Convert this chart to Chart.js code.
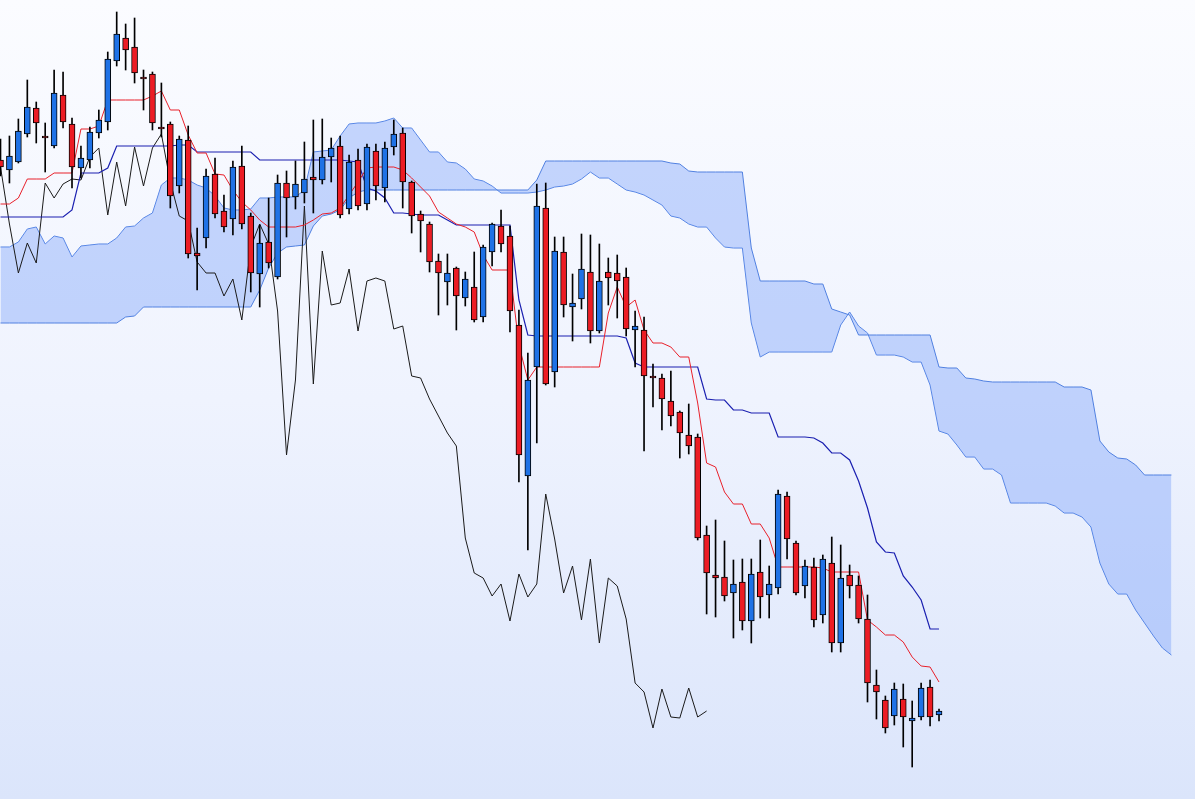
<!DOCTYPE html>
<html>
<head>
<meta charset="utf-8">
<script src="https://cdn.jsdelivr.net/npm/chart.js@4.4.0/dist/chart.umd.min.js"></script>
<style>
  html, body { margin: 0; padding: 0; }
  body {
    width: 1195px; height: 799px; overflow: hidden;
    background: linear-gradient(to bottom, #fbfcff 0%, #eff3fe 50%, #dbe5fb 100%);
  }
  #wrap { position: relative; width: 1195px; height: 799px; }
</style>
</head>
<body>
<div id="wrap"><canvas id="ichimoku"></canvas></div>
<script>
// candles (one per period), price
const opens = [640,630,638,666,692,664,654,705,676,632, 640,667,678,739,762,753,723,726,673,676,
  614,660,547,562,626,589,581,634,584,526, 558,523,617,603,607,623,620,643,654,591,
  640,596,649,612,653,667,618,586,576,539, 518,532,502,513,483,548,574,564,475,324,
  433,592,428,548,493,501,528,469,528,527, 523,470,470,424,422,399,388,365,363,265,
  225,223,207,218,179,228,205,212,304,257, 214,233,185,237,157,225,215,181,115,100,
  84,101,79,83,113,85];
const highs = [661,664,681,720,698,677,730,728,682,654, 673,690,748,788,776,782,730,728,717,678,
  664,674,572,631,642,605,639,654,587,575, 602,625,629,639,658,680,681,662,664,645,
  651,656,656,658,680,672,619,589,578,546, 546,533,528,548,555,577,590,574,490,447,
  616,617,563,563,526,566,565,556,542,545, 532,489,483,436,426,429,389,396,366,274,
  280,259,240,241,241,260,234,310,308,259, 240,242,245,263,255,235,224,205,130,104,
  117,116,99,117,120,91];
const lows = [624,617,637,663,657,628,652,672,612,622, 632,662,670,734,730,717,690,670,663,592,
  607,542,510,552,582,568,565,571,508,493, 532,521,563,591,597,587,616,618,582,586,
  590,590,600,598,645,592,567,548,528,485, 495,470,494,478,478,534,548,468,318,250,
  357,415,413,483,459,491,457,467,495,482, 464,433,349,393,370,374,342,346,260,186,
  183,199,162,170,157,182,182,206,241,205, 202,173,177,148,148,202,177,98,81,67,
  75,53,33,80,74,79];
const closes = [633,644,669,693,677,662,707,678,633,642, 668,680,741,766,750,727,721,677,671,604,
  661,546,544,624,586,573,633,576,527,557, 537,617,602,616,621,620,643,652,585,638,
  594,653,614,652,666,618,584,579,538,527, 527,504,521,480,553,576,556,489,345,420,
  594,416,549,495,497,531,469,519,522,519, 471,474,424,422,401,384,367,354,262,227,
  222,204,216,179,226,203,216,306,261,207, 234,180,241,157,222,214,181,117,108,72,
  111,83,82,112,83,89];

// conversion line (red) and base line (navy)
const tenkan = [596,596,602,621,621,621,627,627,627,671, 671,674,700,700,700,700,700,704,709,690,
  690,665,647,647,626,625,610,598,590,580, 573,573,573,573,575,580,586,587,592,605,
  618,632,633,633,633,630,622,613,604,588, 582,576,573,568,545,530,530,530,455,420,
  433,433,433,433,433,433,433,433,487,513, 493,500,470,457,457,453,443,443,397,337,
  333,308,296,296,276,276,262,233,233,233, 233,233,232,228,228,228,228,180,173,165,
  165,158,143,134,133,118];
const kijun = [583,583,583,583,583,583,583,583,590,627, 627,627,632,654,654,654,654,654,654,654,
  655,655,648,648,648,648,648,648,648,640, 640,640,640,640,640,640,640,640,640,639,
  638,612,609,602,587,587,586,585,585,585, 580,575,575,575,575,575,575,575,500,465,
  464,464,464,464,464,464,464,464,464,464, 462,437,433,433,433,433,433,433,433,401,
  400,400,390,390,387,387,387,363,363,363, 363,362,357,347,347,340,319,292,258,248,
  247,224,213,200,171,171];

// leading spans, they run 26 periods past the last candle
const senkouA = [553,553,558,571,573,556,564,562,543,554, 555,556,556,562,573,574,582,587,615,622,
  622,620,615,612,604,592,590,590,591,602, 602,603,603,603,610,648,649,650,664,676,
  677,677,677,679,682,672,672,660,648,648, 638,637,631,621,619,614,607,607,607,607,
  608,610,613,614,616,621,628,622,622,616, 610,608,605,600,595,584,582,576,573,573,
  562,553,552,552,477,443,448,448,448,448, 448,448,448,448,475,488,474,467,445,445,
  445,443,438,438,415,369,366,355,343,343, 331,331,325,297,297,297,297,297,294,287,
  287,283,273,237,216,206,206,190,177,164, 152,145];
const senkouB = [477,477,477,477,477,477,477,477,477,477, 477,477,477,477,483,484,493,493,493,493,
  493,493,493,493,493,493,493,493,493,510, 532,547,553,554,555,574,584,586,590,602,
  608,610,610,610,610,610,610,610,610,610, 610,610,610,610,610,610,610,610,610,610,
  620,639,639,639,639,639,639,639,639,639, 639,639,639,639,639,637,636,629,628,628,
  628,628,628,628,552,519,519,519,519,519, 519,516,516,491,488,485,465,465,465,465,
  465,465,465,465,465,433,432,432,422,421, 419,418,418,418,418,418,418,418,418,413,
  413,413,410,359,348,342,341,335,325,325, 325,325];

const lagging = 26;

const upColor = '#1f72e6';
const downColor = '#ec1c24';

const pts = arr => arr.map((v, i) => ({ x: i, y: v }));

const bodies = opens.map((o, i) => ({ x: i, y: [o, closes[i]] }));
const wicks = highs.map((h, i) => ({ x: i, y: [lows[i], h] }));
const bodyColors = opens.map((o, i) => closes[i] >= o ? upColor : downColor);
const chikou = closes.slice(lagging).map((c, k) => ({ x: k, y: c }));

const ctx = document.getElementById('ichimoku');

new Chart(ctx, {
  type: 'bar',
  data: {
    datasets: [
      {
        type: 'line',
        data: pts(senkouA),
        borderColor: '#5080e0',
        borderWidth: 1,
        pointRadius: 0,
        fill: false,
        order: 6
      },
      {
        type: 'line',
        data: pts(senkouB),
        borderColor: '#5080e0',
        borderWidth: 1,
        pointRadius: 0,
        fill: '-1',
        backgroundColor: 'rgba(125, 162, 250, 0.42)',
        order: 5
      },
      {
        type: 'line',
        data: chikou,
        borderColor: '#1a1a1a',
        borderWidth: 1,
        pointRadius: 0,
        order: 4
      },
      {
        type: 'line',
        data: pts(kijun),
        borderColor: '#1a1fb0',
        borderWidth: 1.2,
        pointRadius: 0,
        order: 3
      },
      {
        type: 'line',
        data: pts(tenkan),
        borderColor: '#e8202a',
        borderWidth: 1,
        pointRadius: 0,
        order: 2
      },
      {
        data: wicks,
        backgroundColor: '#000',
        barThickness: 1,
        grouped: false,
        order: 1
      },
      {
        data: bodies,
        backgroundColor: bodyColors,
        borderColor: '#000',
        borderWidth: 1,
        borderSkipped: false,
        barThickness: 6,
        grouped: false,
        order: 0
      }
    ]
  },
  options: {
    responsive: true,
    maintainAspectRatio: false,
    animation: false,
    events: [],
    layout: { padding: 0 },
    plugins: {
      legend: { display: false },
      tooltip: { enabled: false }
    },
    scales: {
      x: { type: 'linear', min: -0.056, max: 133.64, offset: false, display: false },
      y: { type: 'linear', min: 1, max: 800, display: false }
    }
  }
});
</script>
</body>
</html>
